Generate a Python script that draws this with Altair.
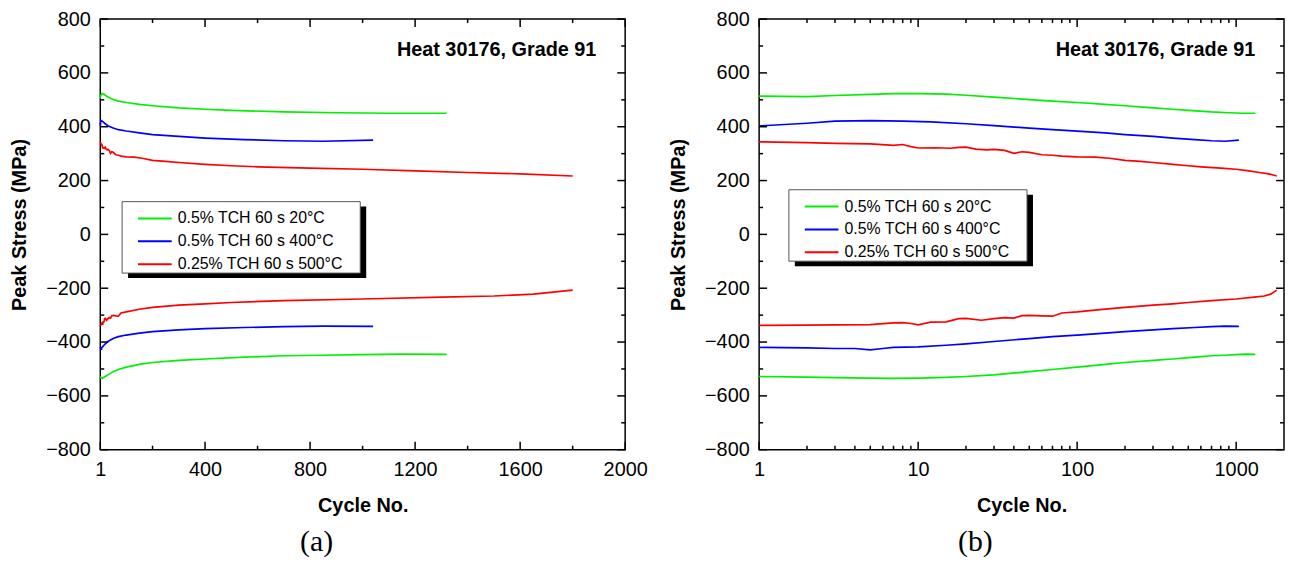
import altair as alt
import pandas as pd

S20 = "0.5% TCH 60 s 20°C"
S400 = "0.5% TCH 60 s 400°C"
S500 = "0.25% TCH 60 s 500°C"
SERIES = [S20, S400, S500]
COLORS = ["#00f000", "#0000ff", "#ff0000"]

# 0.5% 20C, tensile peak
g_up_n = [1, 2, 3, 5, 7, 10, 15, 20, 30, 50, 70, 100, 150, 200, 300, 400, 500, 700, 900, 1100, 1320]
g_up_v = [514, 512, 516, 520, 523, 523, 521, 517, 510, 501, 495, 490, 483, 478, 470, 465, 461, 455, 452, 450, 450]
# 0.5% 20C, compressive peak
g_lo_n = [1, 2, 3, 5, 7, 10, 15, 20, 30, 50, 70, 100, 150, 200, 300, 400, 550, 700, 850, 1000, 1150, 1320]
g_lo_v = [-528, -530, -532, -534, -535, -534, -531, -528, -522, -510, -502, -493, -483, -476, -468, -463, -456, -451, -449, -447, -445, -446]
# 0.5% 400C
b_up_n = [1, 2, 3, 5, 8, 12, 20, 30, 50, 70, 100, 150, 200, 300, 400, 550, 700, 850, 1040]
b_up_v = [403, 413, 421, 423, 421, 418, 411, 404, 395, 389, 384, 377, 371, 364, 358, 352, 348, 346, 350]
b_lo_n = [1, 2, 3, 4, 5, 6, 7, 10, 15, 20, 30, 50, 70, 100, 150, 200, 300, 400, 550, 700, 850, 1040]
b_lo_v = [-420, -422, -424, -424, -429, -424, -420, -418, -412, -407, -398, -387, -380, -374, -367, -361, -355, -350, -346, -343, -341, -342]
# 0.25% 500C
r_up_n = [1, 2, 3, 5, 7, 8, 9, 10, 13, 16, 18, 20, 23, 27, 30, 35, 40, 45, 50, 60, 70, 80, 100, 130, 160, 200, 250, 300, 400, 500, 600, 800, 1000, 1200, 1400, 1600, 1800]
r_up_v = [344, 341, 338, 336, 331, 334, 326, 321, 322, 320, 323, 324, 317, 314, 316, 312, 301, 307, 305, 296, 294, 291, 288, 287, 283, 275, 271, 267, 260, 255, 251, 246, 242, 236, 230, 225, 217]
r_lo_n = [1, 2, 3, 5, 7, 8, 9, 10, 12, 15, 18, 20, 25, 30, 35, 40, 45, 50, 60, 70, 80, 100, 150, 200, 300, 400, 500, 700, 1000, 1300, 1500, 1650, 1800]
r_lo_v = [-338, -337, -336, -335, -329, -328, -331, -336, -326, -325, -313, -312, -319, -313, -309, -311, -302, -301, -303, -304, -292, -288, -278, -271, -263, -258, -253, -246, -240, -233, -229, -222, -207]

# tick values
lin_x_major = [1, 400, 800, 1200, 1600, 2000]
lin_x_minor = [200, 600, 1000, 1400, 1800]
log_x_major = [1, 10, 100, 1000]
log_x_minor = [2, 3, 4, 5, 6, 7, 8, 9, 20, 30, 40, 50, 60, 70, 80, 90, 200, 300, 400, 500, 600, 700, 800, 900]
y_major = [-800, -600, -400, -200, 0, 200, 400, 600, 800]
y_minor = [-700, -500, -300, -100, 100, 300, 500, 700]

rows = []
for s, b, ns, vs in [
    (S20, "up", g_up_n, g_up_v), (S20, "lo", g_lo_n, g_lo_v),
    (S400, "up", b_up_n, b_up_v), (S400, "lo", b_lo_n, b_lo_v),
    (S500, "up", r_up_n, r_up_v), (S500, "lo", r_lo_n, r_lo_v),
]:
    for n, v in zip(ns, vs):
        rows.append({"cycle": n, "stress": v, "series": s, "branch": b})
df = pd.DataFrame(rows)

W, H = 529, 434
FONT = "Liberation Sans"
MAJ, MIN = 8, 4
one = pd.DataFrame({"k": [0]})


def panel(xscale, xmaj, xmin, legx, legy, tag):
    yscale = alt.Scale(domain=[-800, 800], nice=False, zero=False)
    xaxis = alt.Axis(values=xmaj, format="d", ticks=False, tickSize=0, domain=False, grid=False,
                     labelFlush=False, labelPadding=10, labelFontSize=20, labelFont=FONT,
                     labelColor="black", title="Cycle No.", titleFont=FONT, titleFontSize=20,
                     titleFontWeight="bold", titleColor="black", titlePadding=16)
    yaxis = alt.Axis(values=y_major, format="d", ticks=False, tickSize=0, domain=False, grid=False,
                     labelFlush=False, labelPadding=10, labelFontSize=20, labelFont=FONT,
                     labelColor="black", title="Peak Stress (MPa)", titleFont=FONT,
                     titleFontSize=20, titleFontWeight="bold", titleColor="black",
                     titlePadding=16, titleY=207)
    lines = alt.Chart(df).mark_line(strokeWidth=1.7).encode(
        x=alt.X("cycle:Q", scale=xscale, axis=xaxis),
        y=alt.Y("stress:Q", scale=yscale, axis=yaxis),
        color=alt.Color("series:N", scale=alt.Scale(domain=SERIES, range=COLORS),
                        legend=alt.Legend(orient="none", legendX=legx + 22, legendY=legy + 6, title=None,
                                          padding=0, labelFont=FONT, labelFontSize=16, labelColor="black",
                                          labelLimit=400,
                                          symbolType="M-1.7,0L1.7,0", symbolSize=400, symbolStrokeWidth=2,
                                          labelOffset=12, rowPadding=4, symbolOffset=0)),
        detail="branch:N",
        order="cycle:Q",
    )
    layers = []
    # legend frame with shadow
    layers.append(alt.Chart(one).mark_rect(color="black").encode(
        x=alt.value(legx + 6), x2=alt.value(legx + 246), y=alt.value(legy + 5), y2=alt.value(legy + 77)))
    layers.append(alt.Chart(one).mark_rect(fill="white", stroke="#555", strokeWidth=1).encode(
        x=alt.value(legx), x2=alt.value(legx + 240), y=alt.value(legy), y2=alt.value(legy + 72)))
    layers.append(lines)
    xt_maj = pd.DataFrame({"v": xmaj})
    xt_min = pd.DataFrame({"v": xmin})
    yt_maj = pd.DataFrame({"v": y_major})
    yt_min = pd.DataFrame({"v": y_minor})
    for d, L in [(xt_maj, MAJ), (xt_min, MIN)]:
        layers.append(alt.Chart(d).mark_rule(color="black", strokeWidth=1.5).encode(
            x=alt.X("v:Q", scale=xscale, axis=xaxis), y=alt.value(H), y2=alt.value(H - L)))
        layers.append(alt.Chart(d).mark_rule(color="black", strokeWidth=1.5).encode(
            x=alt.X("v:Q", scale=xscale, axis=xaxis), y=alt.value(0), y2=alt.value(L)))
    for d, L in [(yt_maj, MAJ), (yt_min, MIN)]:
        layers.append(alt.Chart(d).mark_rule(color="black", strokeWidth=1.5).encode(
            y=alt.Y("v:Q", scale=yscale, axis=yaxis), x=alt.value(0), x2=alt.value(L)))
        layers.append(alt.Chart(d).mark_rule(color="black", strokeWidth=1.5).encode(
            y=alt.Y("v:Q", scale=yscale, axis=yaxis), x=alt.value(W), x2=alt.value(W - L)))
    layers.append(alt.Chart(one).mark_text(text="Heat 30176, Grade 91", align="right", baseline="middle",
                                           font=FONT, fontSize=20, fontWeight="bold", color="black").encode(
        x=alt.value(W - 29), y=alt.value(31)))
    layers.append(alt.Chart(one).mark_text(text=tag, align="center", baseline="middle",
                                           font="Liberation Serif", fontSize=30, color="black").encode(
        x=alt.value(218), y=alt.value(527)))
    return alt.layer(*layers).properties(width=W, height=H)


left = panel(alt.Scale(type="linear", domain=[1, 2000], nice=False, zero=False),
             lin_x_major, lin_x_minor, 22, 184, "(a)")
right = panel(alt.Scale(type="log", domain=[1, 2000], nice=False),
              log_x_major, log_x_minor, 30, 172, "(b)")

chart = alt.hconcat(left, right, spacing=135, bounds="flush").resolve_scale(
    x="independent", y="independent", color="independent"
).properties(
    padding={"left": 1, "top": -2, "right": 0, "bottom": 0}
).configure(
    font=FONT, background="white",
    view=alt.ViewConfig(stroke="black", strokeWidth=1.5),
)

chart.save("out.html", embed_options={"renderer": "svg", "actions": False})
